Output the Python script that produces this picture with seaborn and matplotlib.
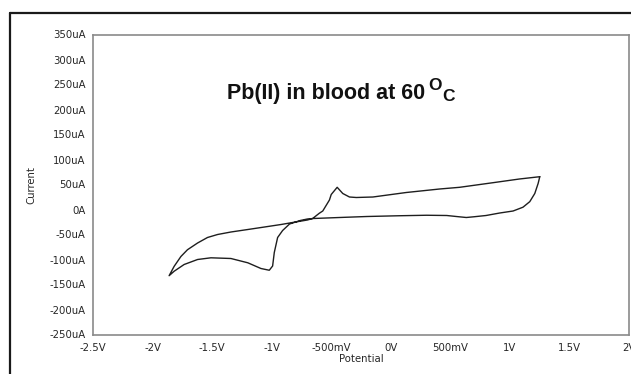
import matplotlib
matplotlib.use("Agg")
import matplotlib.pyplot as plt
from matplotlib.lines import Line2D
import seaborn as sns
import pandas as pd

# ---- data ----
# reverse scan from +1.25 V down to -1.86 V (lower branch)
potential_down = [1.251, 1.237, 1.209, 1.167, 1.11, 1.027, 0.915, 0.80, 0.70, 0.634,
                  0.55, 0.47, 0.30, 0.07, -0.20, -0.43, -0.65, -0.70, -0.76, -0.85,
                  -0.908, -0.95, -0.978, -0.992, -1.02, -1.09, -1.20, -1.342,
                  -1.51, -1.622, -1.735, -1.819, -1.861]
current_down = [65.6, 52, 32, 15.7, 4.6, -3, -7, -12, -14.5, -16,
                -14, -12, -11.5, -12.5, -14, -16, -18, -19, -22, -29,
                -42, -56, -86, -113, -121.5, -118, -106.6, -98,
                -96.6, -100, -110, -123.5, -132.4]
# forward scan from -1.86 V back up to +1.25 V (upper branch)
potential_up = [-1.861, -1.819, -1.762, -1.707, -1.622, -1.539, -1.454, -1.342,
                -1.20, -1.06, -0.921, -0.824, -0.70, -0.656, -0.60, -0.571,
                -0.543, -0.515, -0.50, -0.45, -0.403, -0.347, -0.29, -0.15,
                0.13, 0.41, 0.578, 0.858, 1.08, 1.251]
current_up = [-132.4, -113.8, -94, -80.5, -67, -56, -50, -45,
              -40, -35, -30, -26, -21, -18, -7.5, -3,
              8, 19, 30, 44.4, 32, 25, 24, 25,
              34, 41, 44.4, 53.6, 61, 65.6]

x_ticks = [-2.5, -2.0, -1.5, -1.0, -0.5, 0.0, 0.5, 1.0, 1.5, 2.0]
x_tick_labels = ["-2.5V", "-2V", "-1.5V", "-1V", "-500mV", "0V", "500mV", "1V", "1.5V", "2V"]
y_ticks = [350, 300, 250, 200, 150, 100, 50, 0, -50, -100, -150, -200, -250]
y_tick_labels = ["350uA", "300uA", "250uA", "200uA", "150uA", "100uA", "50uA", "0A",
                 "-50uA", "-100uA", "-150uA", "-200uA", "-250uA"]
title_main = "Pb(II) in blood at 60"
title_sup = "O"
title_unit = "C"

df = pd.DataFrame({
    "Potential": potential_down + potential_up,
    "Current": current_down + current_up,
})

sns.set_theme(style="white")
plt.rcParams["font.family"] = ["DejaVu Sans"]

fig = plt.figure(figsize=(6.31, 3.74), dpi=100)
ax = fig.add_axes([93 / 631, 1 - 334.5 / 374, 536 / 631, 300 / 374])

sns.lineplot(data=df, x="Potential", y="Current", sort=False, estimator=None,
             color="#1e1e1e", linewidth=1.0, ax=ax)

ax.set_xlim(-2.5, 2.0)
ax.set_ylim(-250, 350)
ax.set_xticks(x_ticks)
ax.set_xticklabels(x_tick_labels)
ax.set_yticks(y_ticks)
ax.set_yticklabels(y_tick_labels)
ax.tick_params(axis="both", direction="out", length=4, width=1.0, color="#808080",
               labelsize=7.3, labelcolor="#262626", pad=1.5)
ax.tick_params(axis="x", pad=2)
for s in ax.spines.values():
    s.set_color("#8a8a8a")
    s.set_linewidth(1.2)
    s.set_visible(True)

ax.set_xlabel("Potential", fontsize=7.3, color="#262626", labelpad=0.5)
ax.set_ylabel("Current", fontsize=7.3, color="#262626", labelpad=9)

t1 = ax.text(0.25, 0.785, title_main, transform=ax.transAxes, fontsize=15.5,
             fontweight="bold", family="Liberation Sans", color="#111111", va="baseline")
t2 = ax.annotate(title_sup, xy=(1, 0), xycoords=t1, xytext=(2, 8),
                 textcoords="offset points", fontsize=12.5, fontweight="bold",
                 family="Liberation Sans", color="#111111", va="bottom")
ax.annotate(title_unit, xy=(1, 0), xycoords=t2, xytext=(0.5, -8),
            textcoords="offset points", fontsize=12.5, fontweight="bold",
            family="Liberation Sans", color="#111111", va="bottom")

# outer frame (top and left edges visible)
fig.add_artist(Line2D([9.5 / 631, 1.0], [1 - 13 / 374, 1 - 13 / 374],
                      transform=fig.transFigure, color="#1a1a1a", linewidth=1.6))
fig.add_artist(Line2D([9.5 / 631, 9.5 / 631], [0.0, 1 - 13 / 374],
                      transform=fig.transFigure, color="#1a1a1a", linewidth=1.6))

fig.savefig("out.png", dpi=100)
